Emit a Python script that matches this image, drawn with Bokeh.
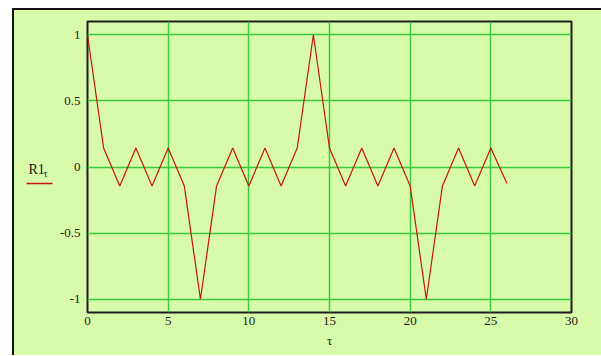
from bokeh.plotting import figure
from bokeh.layouts import row
from bokeh.models import Range1d, FixedTicker
from bokeh.core.properties import value
from bokeh.embed import file_html
from bokeh.resources import INLINE

tau = [0, 1, 2, 3, 4, 5, 6, 7, 8, 9, 10, 11, 12, 13, 14, 15, 16, 17, 18, 19, 20, 21, 22, 23, 24, 25, 26]
r1 = [1.0, 0.143, -0.143, 0.143, -0.143, 0.143, -0.143, -1.0, -0.143, 0.143, -0.143, 0.143, -0.143, 0.143,
      1.0, 0.143, -0.143, 0.143, -0.143, 0.143, -0.143, -1.0, -0.143, 0.143, -0.143, 0.143, -0.125]

x_ticks = [0, 5, 10, 15, 20, 25, 30]
x_tick_labels = ["0", "5", "10", "15", "20", "25", "30"]
y_ticks = [-1, -0.5, 0, 0.5, 1]
y_tick_labels = ["-1", "-0.5", "0", "0.5", "1"]
series_name = "R1"
series_sub = "τ"
x_name = "τ"

BG = "#d8fbaa"
GRID = "#3cc83c"
LINE = "#c8140a"
TXT = "#1a1a1a"
FONT = "Liberation Serif"

yr = Range1d(-1.1, 1.1)

p = figure(width=547, height=345, output_backend="svg", toolbar_location=None,
           x_range=Range1d(0, 30), y_range=yr,
           min_border_left=33, min_border_right=30, min_border_top=11, min_border_bottom=43)

p.background_fill_color = BG
p.border_fill_color = BG
p.outline_line_color = "#1e1e1e"
p.outline_line_width = 2

p.xaxis.ticker = FixedTicker(ticks=x_ticks)
p.yaxis.ticker = FixedTicker(ticks=y_ticks)
p.xaxis.major_label_overrides = {t: l for t, l in zip(x_ticks, x_tick_labels)}
p.yaxis.major_label_overrides = {t: l for t, l in zip(y_ticks, y_tick_labels)}

for ax in (p.xaxis, p.yaxis):
    ax.axis_line_color = None
    ax.major_tick_line_color = None
    ax.minor_tick_line_color = None
    ax.major_tick_out = 0
    ax.major_tick_in = 0
    ax.major_label_text_font = FONT
    ax.major_label_text_font_size = "13px"
    ax.major_label_text_color = TXT
p.yaxis.major_label_standoff = 7
p.xaxis.major_label_standoff = 4
p.xaxis.axis_label = x_name
p.xaxis.axis_label_text_font = FONT
p.xaxis.axis_label_text_font_size = "13px"
p.xaxis.axis_label_text_font_style = "normal"
p.xaxis.axis_label_text_color = TXT
p.xaxis.axis_label_standoff = 5

p.grid.grid_line_color = GRID
p.grid.grid_line_width = 1.5
p.xgrid.ticker = FixedTicker(ticks=x_ticks)
p.ygrid.ticker = FixedTicker(ticks=y_ticks)

p.line(tau, r1, line_color=LINE, line_width=1.2)

# Mathcad-style legend panel on the left (x in pixels of this small panel)
leg = figure(width=40, height=345, output_backend="svg", toolbar_location=None,
             x_range=Range1d(0, 40), y_range=yr, x_axis_type=None, y_axis_type=None,
             min_border_left=0, min_border_right=0, min_border_top=11, min_border_bottom=43)
leg.background_fill_color = BG
leg.border_fill_color = BG
leg.outline_line_color = None
leg.grid.visible = False
leg.text(x=[14], y=[-0.02], text=[series_name], text_font=value(FONT), text_font_size="14px",
         text_color=TXT, text_align="left", text_baseline="alphabetic")
leg.text(x=[29], y=[-0.05], text=[series_sub], text_font=value(FONT), text_font_size="10px",
         text_color=TXT, text_align="left", text_baseline="alphabetic")
leg.line([12, 38], [-0.125, -0.125], line_color=LINE, line_width=1.5)

layout = row(leg, p)
layout.styles = {"margin-left": "12px", "margin-top": "8px", "background-color": BG,
                 "border-left": "2px solid #111", "border-top": "2px solid #111"}

open("out.html", "w").write(file_html(layout, INLINE))
